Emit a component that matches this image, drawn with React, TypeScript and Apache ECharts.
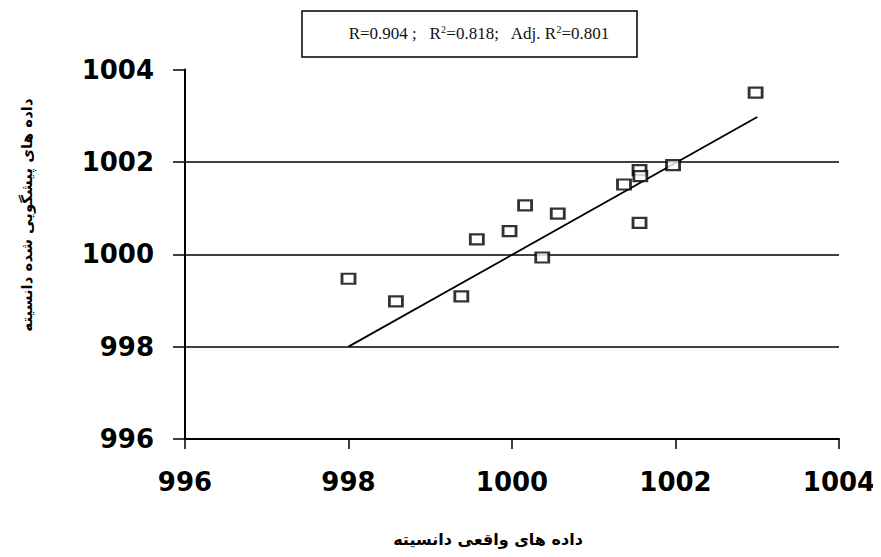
import React, { useEffect, useRef } from "react";
import * as echarts from "echarts";

const actualValues = [998.0, 998.58, 999.38, 999.57, 999.97, 1000.16, 1000.37, 1000.56, 1001.37, 1001.56, 1001.57, 1001.56, 1001.97, 1002.98];
const predictedValues = [999.47, 998.98, 999.09, 1000.32, 1000.5, 1001.06, 999.93, 1000.88, 1001.51, 1001.82, 1001.69, 1000.68, 1001.93, 1003.5];
const fitX = [998.0, 1003.0];
const fitY = [998.0, 1002.97];
const xTicks = [996, 998, 1000, 1002, 1004];
const yTicks = [996, 998, 1000, 1002, 1004];
const statsText = "R=0.904 ;   R{sup|2}=0.818;   Adj. R{sup|2}=0.801";
const xAxisTitle = "داده های واقعی دانسیته";
const yAxisTitle = "داده های پیشگویی شده دانسیته";

export default function App() {
  const ref = useRef<HTMLDivElement>(null);
  useEffect(() => {
    if (!ref.current) return;
    const chart = echarts.init(ref.current, null, { renderer: "svg" });
    const labelFont = {
      fontFamily: "DejaVu Sans",
      fontWeight: "bold" as const,
      fontSize: 26,
      color: "#000",
      formatter: (v: number) => String(v),
    };
    chart.setOption({
      animation: false,
      backgroundColor: "#fff",
      grid: { left: 185, right: 42, top: 69.5, bottom: 118, containLabel: false },
      xAxis: {
        type: "value",
        min: xTicks[0],
        max: xTicks[xTicks.length - 1],
        interval: 2,
        axisLine: { show: true, onZero: false, lineStyle: { color: "#000", width: 2 } },
        axisTick: { show: true, length: 10, lineStyle: { color: "#000", width: 1.5 } },
        axisLabel: { ...labelFont, margin: 30 },
        splitLine: { show: false },
      },
      yAxis: {
        type: "value",
        min: yTicks[0],
        max: yTicks[yTicks.length - 1],
        interval: 2,
        axisLine: { show: true, onZero: false, lineStyle: { color: "#000", width: 2 } },
        axisTick: { show: true, length: 12, lineStyle: { color: "#000", width: 1.5 } },
        axisLabel: { ...labelFont, margin: 31 },
        splitLine: {
          show: true,
          showMinLine: false,
          showMaxLine: false,
          lineStyle: { color: "#000", width: 1.5 },
        },
      },
      graphic: [
        {
          type: "rect",
          shape: { x: 302, y: 11, width: 335, height: 46 },
          style: { fill: "#fff", stroke: "#000", lineWidth: 1.5 },
          z: 10,
        },
        {
          type: "text",
          x: 479,
          y: 33,
          z: 11,
          style: {
            text: statsText,
            align: "center",
            verticalAlign: "middle",
            fontFamily: "Liberation Serif",
            fontSize: 17,
            fill: "#111",
            rich: {
              sup: {
                fontFamily: "Liberation Serif",
                fontSize: 10,
                verticalAlign: "top",
                padding: [0, 0, 8, 0],
                fill: "#111",
              },
            },
          },
        },
        {
          type: "text",
          x: 488,
          y: 539,
          style: {
            text: xAxisTitle,
            align: "center",
            verticalAlign: "middle",
            fontFamily: "DejaVu Sans",
            fontWeight: "bold",
            fontSize: 16,
            fill: "#000",
          },
        },
        {
          type: "text",
          x: 27,
          y: 215,
          rotation: Math.PI / 2,
          style: {
            text: yAxisTitle,
            align: "center",
            verticalAlign: "middle",
            fontFamily: "DejaVu Sans",
            fontWeight: "bold",
            fontSize: 15,
            fill: "#000",
          },
        },
      ],
      series: [
        {
          type: "line",
          data: fitX.map((x, i) => [x, fitY[i]]),
          showSymbol: false,
          symbol: "none",
          lineStyle: { color: "#000", width: 1.8 },
          z: 2,
        },
        {
          type: "scatter",
          data: actualValues.map((x, i) => [x, predictedValues[i]]),
          symbol: "rect",
          symbolSize: [13, 10],
          itemStyle: { color: "#fff", borderColor: "#000", borderWidth: 2.5 },
          z: 3,
        },
      ],
    });
    return () => chart.dispose();
  }, []);
  return <div ref={ref} style={{ width: 881, height: 557, margin: -8 }} />;
}
